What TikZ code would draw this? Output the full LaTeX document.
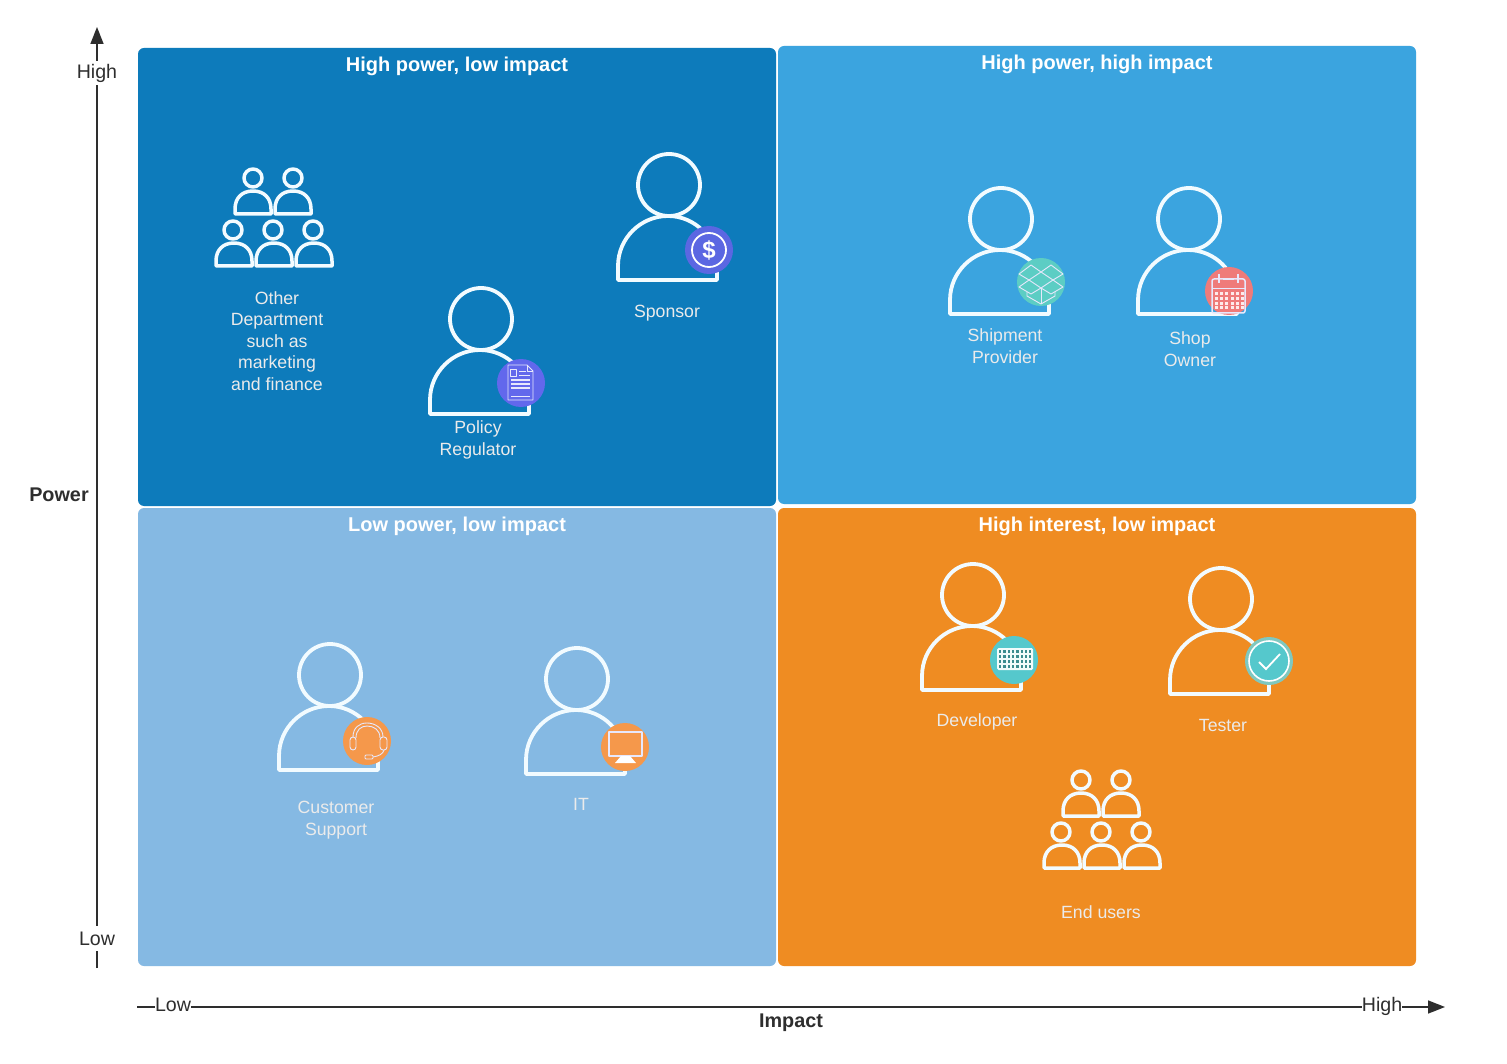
\documentclass[tikz,border=0pt]{standalone}
\usepackage{fontspec}
\setmainfont{Liberation Sans}
\usetikzlibrary{arrows.meta}
\definecolor{cDark}{HTML}{0D7BBB}
\definecolor{cMid}{HTML}{3BA4DF}
\definecolor{cLight}{HTML}{85B9E3}
\definecolor{cOrange}{HTML}{EF8C22}
\definecolor{cStroke}{HTML}{F2FBFF}
\definecolor{cPurple}{HTML}{5B67E2}
\definecolor{cDoc}{HTML}{6268EC}
\definecolor{cTeal}{HTML}{5CCDC4}
\definecolor{cRose}{HTML}{EF7B7A}
\definecolor{cPeach}{HTML}{F5984B}
\definecolor{cAqua}{HTML}{55C8CC}
\definecolor{cSage}{HTML}{7FC8C0}
\definecolor{cAxis}{HTML}{2E2E2E}
\tikzset{
  x=1pt,y=-1pt,
  quad/.style={fill=#1,rounded corners=6pt,draw=none},
  qtitle/.style={text=white,font=\fontsize{20}{24}\selectfont\bfseries,anchor=center,inner sep=0pt},
  plabel/.style={text=white!92!black,font=\fontsize{17.7}{21.4}\selectfont,align=center,anchor=center,inner sep=0pt},
  axlabel/.style={text=cAxis,font=\fontsize{19.6}{22}\selectfont,fill=white,inner sep=2pt},
  axtitle/.style={text=cAxis,font=\fontsize{19.8}{22}\selectfont\bfseries,inner sep=0pt},
  axisline/.style={draw=cAxis,line width=1.6pt,-{Triangle[length=17pt,width=13pt]}},
  figure/.style={draw=cStroke,line width=3.8pt,line join=round},
  smallfig/.style={draw=cStroke,line width=3.5pt,line join=round},
  badge/.style={circle,fill=#1,minimum size=48pt,inner sep=0pt,draw=none},
  glyph/.style={draw=white!85!cDoc,line width=.9pt,line join=round},
}
\newcommand{\personfig}[3]{% name, head x, head y
  \node[circle,draw=cStroke,line width=3.8pt,minimum size=62pt,inner sep=0pt] (#1head) at (#2,#3) {};
  \begin{scope}[shift={(#2,#3)}]
    \draw[figure] (-51,95) -- (-51,81) .. controls (-51,53) and (-28,31) .. (-1,31)
      .. controls (26,31) and (48,53) .. (48,81) -- (48,95) -- cycle;
  \end{scope}
}
\newcommand{\groupfig}[3]{% name, dx, dy
  \begin{scope}[shift={(#2,#3)}]
    \foreach \hx/\hy/\bl/\by in {253/178/235/191,293/178/275/191,233/230/216/243,273/230/256/243,313/230/296/243}{
      \draw[smallfig] (\hx,\hy) circle[radius=9];
      \draw[smallfig] (\bl,\by+23) -- (\bl,\by+18) .. controls (\bl,\by+7) and (\bl+7,\by) .. (\bl+18,\by)
        .. controls (\bl+29,\by) and (\bl+36,\by+7) .. (\bl+36,\by+18) -- (\bl+36,\by+23) -- cycle;
    }
  \end{scope}
}
\begin{document}
\begin{tikzpicture}
\useasboundingbox (0,0) rectangle (1507,1064);
\fill[white] (0,0) rectangle (1507,1064);

% quadrants
\fill[quad=cDark] (138,48) rectangle (776,506);
\fill[quad=cMid] (778,46) rectangle (1416,504);
\fill[quad=cLight] (138,508) rectangle (776,966);
\fill[quad=cOrange] (778,508) rectangle (1416,966);

\node[qtitle] (t1) at (457,66) {High power, low impact};
\node[qtitle] (t2) at (1097,64) {High power, high impact};
\node[qtitle] (t3) at (457,526) {Low power, low impact};
\node[qtitle] (t4) at (1097,526) {High interest, low impact};

% axes
\coordinate (vstart) at (97,968);
\coordinate (vend) at (97,27);
\coordinate (hstart) at (137,1007);
\coordinate (hend) at (1445,1007);
\draw[axisline] (vstart) -- (vend);
\draw[axisline] (hstart) -- (hend);
\node[axlabel,inner xsep=3pt,inner ysep=3pt] (vhigh) at (97,73) {High};
\node[axlabel,inner xsep=3pt,inner ysep=6pt] (vlow) at (97,938.5) {Low};
\node[axlabel,inner xsep=0pt,inner ysep=1pt] (hlow) at (173,1005) {Low};
\node[axlabel,inner xsep=0pt,inner ysep=1pt] (hhigh) at (1382,1006.5) {High};
\node[axtitle] (power) at (59,495) {Power};
\node[axtitle] (impact) at (791,1022.5) {Impact};

% groups
\groupfig{groupA}{0}{0}
\groupfig{groupB}{828}{602}
\node[plabel] (lOther) at (277,341) {Other\\Department\\such as\\marketing\\and finance};
\node[plabel] (lEnd) at (1101,912) {End users};

% Sponsor
\personfig{sponsor}{669}{185}
\node[badge=cPurple] (bSponsor) at (709,250) {};
\begin{scope}[shift={(bSponsor)}]
  \draw[draw=white,line width=1.8pt] (0,0) circle[radius=17];
  \node[text=white,font=\fontsize{24}{24}\selectfont\bfseries,inner sep=0pt] (dollar) at (0,0) {\$};
\end{scope}
\node[plabel] (lSponsor) at (667,313) {Sponsor};

% Policy regulator
\personfig{policy}{481}{319}
\node[badge=cDoc] (bPolicy) at (521,383) {};
\begin{scope}[shift={(bPolicy)}]
  \draw[glyph] (-13,-18) -- (6,-18) -- (12,-12) -- (12,17) -- (-13,17) -- cycle;
  \draw[glyph,line width=.6pt] (6,-18) -- (6,-12) -- (12,-12);
  \draw[glyph,line width=.7pt] (-11,-14) rectangle (-5,-7);
  \draw[glyph,line width=.6pt] (-2,-12) -- (5,-12) (-2,-8) -- (9,-8);
  \draw[glyph,line width=1.1pt] (-10,-3) -- (9,-3) (-10,1) -- (9,1) (-10,5) -- (9,5);
  \draw[glyph,line width=.6pt] (-10,13) -- (9,13);
\end{scope}
\node[plabel] (lPolicy) at (478,440) {Policy\\Regulator};

% Shipment provider
\personfig{shipment}{1001}{219}
\node[badge=cTeal] (bShip) at (1041,282) {};
\begin{scope}[shift={(bShip)}]
  \draw[glyph] (-22,-8) -- (-10,-17) -- (0,-10) -- (10,-17) -- (22,-8) -- (12,-2) -- (0,-10) -- (-12,-2) -- cycle;
  \draw[glyph] (-12,-2) -- (0,6) -- (12,-2);
  \draw[glyph] (-12,-2) -- (-22,5) -- (-10,12) -- (0,6) -- (10,12) -- (22,5) -- (12,-2);
  \draw[glyph] (-14,10) -- (-14,14) -- (0,22) -- (14,14) -- (14,10);
  \draw[glyph,line width=.5pt] (0,6) -- (0,22);
\end{scope}
\node[plabel] (lShip) at (1005,346) {Shipment\\Provider};

% Shop owner
\personfig{shop}{1189}{219}
\node[badge=cRose] (bShop) at (1229,291) {};
\begin{scope}[shift={(bShop)}]
  \draw[glyph,line width=1.5pt,rounded corners=2pt] (-17,-12) rectangle (16,22);
  \draw[glyph] (-17,-3) -- (16,-3);
  \draw[glyph,line width=1.5pt] (-10,-17) -- (-10,-8) (9,-17) -- (9,-8) (-6,-12) -- (5,-12);
  \foreach \r in {0,1,2,3}{
    \foreach \c in {0,1,2,3,4,5}{
      \fill[white!85!cRose] (-14+\c*5.2,1+\r*4.8) rectangle ++(3,3);
    }
  }
\end{scope}
\node[plabel] (lShop) at (1190,349) {Shop\\Owner};

% Customer support
\personfig{customer}{330}{675}
\node[badge=cPeach] (bCust) at (367,741) {};
\begin{scope}[shift={(bCust)}]
  \draw[glyph] (-14,-4) .. controls (-14,-13) and (-8,-18) .. (0,-18) .. controls (8,-18) and (16,-13) .. (16,-4);
  \draw[glyph] (-11,-3) .. controls (-11,-11) and (-6,-15) .. (0,-15) .. controls (7,-15) and (13,-11) .. (13,-3);
  \draw[glyph,rounded corners=3pt] (-17,-4) rectangle (-11,9);
  \draw[glyph,rounded corners=3pt] (13,-4) rectangle (20,9);
  \draw[glyph] (17,9) .. controls (16,13) and (12,15) .. (6,16);
  \draw[glyph,rounded corners=1pt] (-2,14) rectangle (6,18);
\end{scope}
\node[plabel] (lCust) at (336,820) {Customer\\Support};

% IT
\personfig{it}{577}{679}
\node[badge=cPeach] (bIT) at (625,747) {};
\begin{scope}[shift={(bIT)}]
  \draw[glyph,line width=1.4pt] (-16,-15) rectangle (17,9);
  \fill[white] (-4,9) -- (5,9) -- (11,16) -- (-10,16) -- cycle;
\end{scope}
\node[plabel] (lIT) at (581,804) {IT};

% Developer
\personfig{developer}{973}{595}
\node[badge=cAqua] (bDev) at (1014,660) {};
\begin{scope}[shift={(bDev)}]
  \fill[white!92!cAqua,rounded corners=1.5pt] (-17,-12) rectangle (19,10);
  \foreach \r in {0,1,2,3}{
    \foreach \c in {0,1,2,3,4,5,6,7}{
      \fill[cAqua!70!black] (-15+\c*4.3,-10+\r*5) rectangle ++(2.3,2.6);
    }
  }
\end{scope}
\node[plabel] (lDev) at (977,722) {Developer};

% Tester
\personfig{tester}{1221}{599}
\node[badge=cSage] (bTest) at (1269,661) {};
\begin{scope}[shift={(bTest)}]
  \fill[cAqua] (0,0) circle[radius=20];
  \draw[white,line width=1.6pt] (0,0) circle[radius=20];
  \draw[white,line width=1.8pt] (-10,1) -- (-3,8) -- (11,-7);
\end{scope}
\node[plabel] (lTest) at (1223,725) {Tester};
\end{tikzpicture}
\end{document}
